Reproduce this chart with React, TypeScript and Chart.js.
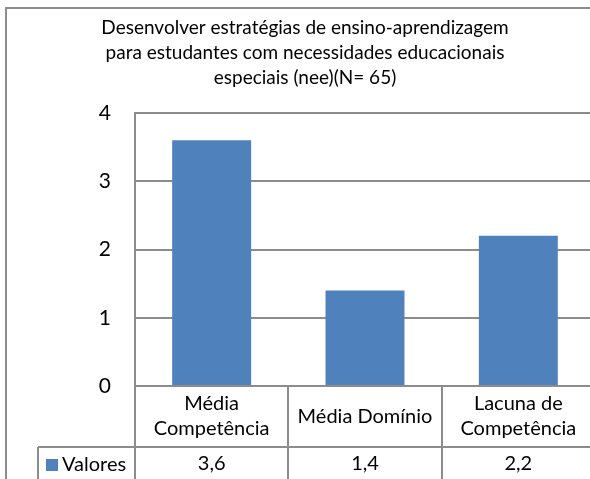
import React, { useEffect, useRef } from "react";
import { Chart, registerables } from "chart.js";

Chart.register(...registerables);

const titleLines = [
  "Desenvolver estratégias de ensino-aprendizagem",
  "para estudantes com necessidades educacionais",
  "especiais (nee)(N= 65)",
];
const categories = [["Média", "Competência"], ["Média Domínio"], ["Lacuna de", "Competência"]];
const seriesName = "Valores";
const values = [3.6, 1.4, 2.2];
const yMin = 0;
const yMax = 4;
const yStep = 1;

const FONT = "Lato, 'Open Sans', sans-serif";
const BLUE = "#4F81BD";
const GRID = "#8C8C8C";
const CW = 620;
const CH = 520;

export default function App() {
  const ref = useRef<HTMLCanvasElement>(null);

  useEffect(() => {
    if (!ref.current) return;

    const framePlugin = {
      id: "excelFrame",
      beforeDraw(chart: any) {
        const ctx = chart.ctx;
        ctx.save();
        ctx.fillStyle = "#fff";
        ctx.fillRect(0, 0, chart.width, chart.height);
        ctx.strokeStyle = GRID;
        ctx.lineWidth = 2;
        ctx.strokeRect(6, 8, 700, 700);
        // title
        ctx.fillStyle = "#000";
        ctx.font = `19px ${FONT}`;
        ctx.textAlign = "center";
        ctx.textBaseline = "middle";
        titleLines.forEach((t, i) => ctx.fillText(t, 305, 28 + i * 25));
        ctx.restore();
      },
      afterDraw(chart: any) {
        const ctx = chart.ctx;
        const area = chart.chartArea;
        const xs = chart.scales.x;
        const n = categories.length;
        const cw = (area.right - area.left) / n;
        const rowTop = 447;
        const bottom = chart.height;
        const tableLeft = 38;
        ctx.save();
        ctx.strokeStyle = GRID;
        ctx.lineWidth = 2;
        ctx.beginPath();
        ctx.moveTo(area.left, area.top);
        ctx.lineTo(area.left, bottom);
        for (let i = 1; i <= n; i++) {
          const x = Math.round(area.left + i * cw);
          ctx.moveTo(x, area.bottom);
          ctx.lineTo(x, bottom);
        }
        ctx.moveTo(tableLeft, rowTop);
        ctx.lineTo(chart.width, rowTop);
        ctx.moveTo(tableLeft, rowTop);
        ctx.lineTo(tableLeft, bottom);
        ctx.stroke();

        ctx.fillStyle = "#000";
        ctx.font = `20px ${FONT}`;
        ctx.textAlign = "center";
        ctx.textBaseline = "middle";
        categories.forEach((lines, i) => {
          const cx = xs.getPixelForValue(i);
          const mid = (area.bottom + rowTop) / 2;
          const lh = 25;
          lines.forEach((l, j) => {
            const y = mid - ((lines.length - 1) * lh) / 2 + j * lh;
            ctx.fillText(l, cx, y);
          });
          ctx.fillText(String(values[i]).replace(".", ","), cx, 464);
        });
        ctx.fillStyle = BLUE;
        ctx.fillRect(46, 459, 12, 12);
        ctx.fillStyle = "#000";
        ctx.textAlign = "left";
        ctx.fillText(seriesName, 62, 465);
        ctx.restore();
      },
    };

    const chart = new Chart(ref.current, {
      type: "bar",
      data: {
        labels: categories.map((c) => c.join(" ")),
        datasets: [
          {
            label: seriesName,
            data: values,
            backgroundColor: BLUE,
            borderWidth: 0,
            categoryPercentage: 1,
            barPercentage: 0.515,
          },
        ],
      },
      options: {
        responsive: false,
        animation: false,
        layout: { padding: { left: 0, top: 113, right: CW - 595, bottom: CH - 386 } },
        plugins: { legend: { display: false }, title: { display: false }, tooltip: { enabled: false } },
        scales: {
          x: { display: false },
          y: {
            min: yMin,
            max: yMax,
            ticks: {
              stepSize: yStep,
              color: "#000",
              font: { family: FONT, size: 21 },
              padding: 24,
            },
            grid: { color: GRID, lineWidth: 2, drawTicks: false },
            border: { display: true, color: GRID, width: 2 },
            afterFit: (s: any) => {
              s.width = 135;
            },
          },
        },
      },
      plugins: [framePlugin],
    });
    return () => chart.destroy();
  }, []);

  return (
    <div
      style={{
        position: "fixed",
        left: 0,
        top: 0,
        width: 590,
        height: 479,
        overflow: "hidden",
        background: "#fff",
      }}
    >
      <canvas ref={ref} width={CW} height={CH} style={{ display: "block" }} />
    </div>
  );
}
